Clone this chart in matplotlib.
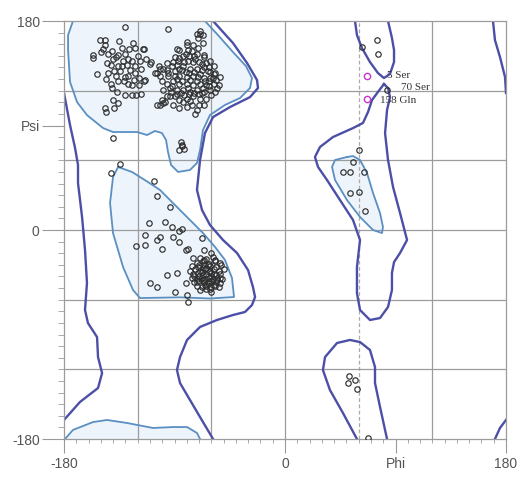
import matplotlib
matplotlib.use('Agg')
import matplotlib.pyplot as plt
from matplotlib.ticker import MultipleLocator

# ---- contour outlines, (phi, psi) ----
# outer (allowed) region, dark blue
outer_left = [(-180, 118), (-175.1, 90.4), (-171.0, 70.6), (-168.6, 56.0), (-168.6, 40.5),
              (-165.3, 11.2), (-162.9, -17.2), (-161.3, -45.6), (-162.9, -68.9), (-160.5, -80.1),
              (-153.1, -92.2), (-152.3, -109.4), (-149.0, -123.2), (-152.3, -136.1),
              (-167.0, -148.1), (-180, -163.6)]
outer_right = [(-58.6, 180), (-42.4, 161.1), (-30.9, 143.8), (-22.8, 129.2), (-22.0, 122.3),
               (-28.5, 114.5), (-44.8, 105.9), (-58.6, 97.3), (-65.2, 83.5), (-69.2, 60.3),
               (-71.7, 34.5), (-67.6, 17.2), (-61.1, 4.3), (-50.5, -8.6), (-39.1, -19.8),
               (-30.1, -34.5), (-26.1, -49.1), (-24.4, -57.7), (-26.9, -64.6), (-32.6, -70.6),
               (-42.4, -73.2), (-55.4, -77.5), (-69.2, -83.5), (-79.8, -94.7), (-85.5, -109.4),
               (-88.0, -120.6), (-85.5, -131.8), (-77.4, -146.4), (-69.2, -161.1), (-58.6, -180)]
outer_wrap_top = [(169.4, 180), (171.0, 163.6), (175.1, 149.0), (179.2, 131.8), (180, 118)]
outer_wrap_bottom = [(171.0, -180), (175.1, -170.5), (180, -163.6)]
outer_lalpha = [(80.6, 125.7), (75.7, 118.9), (70.9, 112.0), (67.6, 101.6), (63.5, 92.2),
                (55.4, 87.8), (39.1, 80.1), (28.5, 71.5), (24.4, 62.9), (26.9, 54.3),
                (34.2, 43.1), (44.8, 25.8), (55.4, 8.6), (61.1, -8.6), (58.6, -31.9),
                (58.6, -54.3), (61.1, -68.9), (69.2, -77.5), (77.4, -75.8), (83.9, -66.3),
                (87.1, -51.7), (87.1, -37.0), (88.8, -27.6), (93.7, -19.8), (99.4, -8.6),
                (93.7, 14.6), (88.0, 37.0), (83.9, 60.3), (81.5, 83.5), (83.1, 103.3),
                (85.5, 114.5), (83.9, 122.3), (80.6, 125.7)]
outer_epsilon_bottom = [(58.6, -180), (47.2, -157.6), (36.6, -137.8), (30.9, -120.6),
                        (32.6, -109.4), (42.4, -97.3), (52.9, -94.7), (61.1, -96.5),
                        (69.2, -103.3), (73.3, -118.0), (73.3, -131.8), (77.4, -152.4),
                        (83.1, -180)]
outer_epsilon_top = [(57.0, 180), (58.6, 167.9), (62.7, 156.7), (69.2, 144.7), (75.7, 135.2),
                     (80.6, 130.9), (85.5, 134.4), (88.8, 144.7), (88.8, 155.0),
                     (87.1, 165.4), (83.9, 180)]

# core (most favoured) regions, light blue
core_beta = [(-172.7, 180), (-176.7, 167.9), (-176.7, 155.0), (-175.1, 127.5), (-169.4, 110.2),
             (-161.3, 99.0), (-148.2, 87.8), (-140.1, 84.4), (-128.7, 84.4), (-120.5, 84.4),
             (-112.4, 81.8), (-105.9, 85.3), (-100.2, 83.5), (-96.9, 77.5), (-95.3, 67.2),
             (-92.8, 56.0), (-87.1, 50.0), (-77.4, 51.7), (-71.7, 57.7), (-69.2, 68.9),
             (-66.8, 86.1), (-61.1, 99.0), (-48.9, 107.7), (-36.6, 113.7), (-28.5, 122.3),
             (-26.9, 130.9), (-31.8, 141.2), (-42.4, 153.3), (-54.6, 167.9), (-65.2, 180)]
core_beta_wrap = [(-179.2, -180), (-172.7, -172.2), (-156.4, -165.4), (-145.0, -163.6),
                  (-128.7, -166.2), (-107.5, -170.5), (-91.2, -169.7), (-79.8, -169.7),
                  (-71.7, -174.8), (-69.2, -180)]
core_alpha = [(-136.0, 54.3), (-124.6, 50.0), (-111.6, 41.3), (-101.8, 34.5), (-89.6, 21.5),
              (-77.4, 8.6), (-66.8, -2.6), (-57.0, -14.6), (-48.9, -25.8), (-43.2, -41.3),
              (-41.5, -57.7), (-61.1, -59.0), (-85.5, -58.0), (-101.8, -58.3), (-118.1, -58.6),
              (-123.8, -51.7), (-131.9, -31.9), (-140.1, -2.6), (-142.5, 23.3), (-140.1, 45.6),
              (-136.0, 54.3)]
core_lalpha = [(50.5, 62.9), (40.7, 60.3), (38.3, 54.3), (40.7, 43.1), (50.5, 25.8),
               (61.1, 11.2), (71.7, 0.0), (79.0, -2.6), (79.8, 2.6), (77.4, 14.6),
               (71.7, 31.9), (66.8, 49.1), (61.1, 60.3), (55.4, 63.7), (50.5, 62.9)]

# ---- residues (phi, psi) ----
res_beta = [
    (-130, 175), (-151, 164), (-147, 164), (-147, 159), (-135, 163), (-148, 156), (-124, 161),
    (-122, 157), (-115, 156), (-156, 151), (-144, 152), (-141, 154), (-138, 149), (-136, 151),
    (-130, 152), (-132, 146), (-128, 147), (-125, 146), (-118, 146), (-109, 145), (-142, 142),
    (-145, 144), (-136, 141), (-133, 141), (-129, 142), (-122, 141), (-117, 139), (-103, 141),
    (-99, 139), (-96, 138), (-153, 134), (-144, 135), (-138, 133), (-130, 132), (-128, 133),
    (-122, 135), (-119, 131), (-114, 129), (-106, 135), (-102, 133), (-142, 126), (-136, 128),
    (-128, 126), (-125, 125), (-119, 125), (-115, 128), (-141, 122), (-137, 119), (-130, 116),
    (-125, 116), (-121, 116), (-147, 105), (-140, 112), (-136, 109), (-104, 108), (-98, 110),
    (-94, 115), (-96, 126), (-94, 122), (-95, 133), (-95, 173), (-140, 79), (-146, 102),
    (-139, 105), (-117, 117), (-116, 156), (-110, 143), (-102, 139), (-104, 135), (-156, 148),
    (-140, 147), (-134, 137), (-126, 138), (-120, 150), (-131, 128), (-123, 129), (-146, 130),
    (-139, 137), (-113, 147), (-127, 156), (-133, 157), (-150, 153),
    (-69, 169), (-71, 165), (-67, 161), (-75, 159), (-80, 159), (-86, 155), (-81, 152),
    (-76, 154), (-72, 152), (-90, 149), (-86, 148), (-79, 146), (-75, 145), (-66, 149),
    (-64, 144), (-61, 146), (-96, 144), (-92, 141), (-88, 142), (-83, 141), (-77, 139),
    (-72, 139), (-68, 138), (-61, 136), (-57, 135), (-95, 135), (-90, 133), (-86, 133),
    (-80, 132), (-75, 133), (-71, 132), (-66, 131), (-61, 131), (-56, 129), (-53, 132),
    (-100, 128), (-91, 128), (-86, 126), (-80, 126), (-75, 125), (-69, 126), (-64, 125),
    (-58, 126), (-54, 125), (-99, 121), (-88, 121), (-83, 121), (-77, 119), (-72, 121),
    (-66, 119), (-61, 121), (-57, 119), (-96, 115), (-90, 115), (-86, 112), (-80, 113),
    (-75, 115), (-69, 113), (-64, 113), (-99, 109), (-91, 108), (-86, 105), (-80, 106),
    (-76, 108), (-72, 103), (-73, 100), (-100, 112), (-102, 108), (-80, 162), (-69, 171),
    (-72, 169), (-67, 168), (-88, 156), (-66, 151), (-84, 138), (-78, 135), (-70, 145),
    (-62, 140), (-65, 128), (-72, 128), (-85, 118), (-79, 122), (-68, 118), (-60, 116),
    (-92, 124), (-88, 130), (-82, 145), (-74, 150), (-58, 141), (-90, 137),
    (-87, 146), (-83, 150), (-78, 150), (-73, 147), (-68, 143), (-63, 137), (-59, 131),
    (-55, 122), (-62, 124), (-67, 122), (-70, 117), (-74, 118), (-78, 117), (-82, 116),
    (-88, 117), (-93, 119), (-84, 128), (-77, 129), (-74, 136), (-69, 134), (-66, 140),
    (-81, 136), (-86, 139), (-91, 145), (-79, 155), (-71, 157), (-83, 110), (-77, 111),
    (-70, 108), (-66, 108), (-62, 128), (-58, 134),
    (-85, 76), (-84, 72), (-86, 69), (-82, 70), (-84, 73),
]
res_alpha = [
    (-134, 57), (-142, 49), (-107, 42), (-104, 29), (-94, 20), (-111, 6), (-98, 7), (-92, 3),
    (-84, 1), (-86, -1), (-91, -6), (-102, -6), (-114, -4), (-104, -9), (-121, -14),
    (-114, -13), (-100, -16), (-86, -10), (-81, -17), (-79, -16), (-68, -7), (-66, -17),
    (-60, -20), (-75, -24), (-96, -39), (-88, -37), (-110, -46), (-104, -49), (-90, -53),
    (-80, -56), (-81, -46), (-79, -62),
    (-69, -24), (-64, -25), (-59, -23),
    (-72, -28), (-67, -27), (-62, -29), (-57, -27), (-53, -28),
    (-76, -31), (-71, -32), (-66, -30), (-61, -31), (-56, -32), (-52, -30),
    (-77, -35), (-73, -34), (-69, -35), (-65, -34), (-61, -35), (-58, -34), (-54, -35), (-50, -34),
    (-75, -38), (-71, -37), (-67, -39), (-64, -38), (-60, -37), (-56, -39), (-53, -38),
    (-76, -41), (-72, -42), (-68, -41), (-65, -42), (-62, -41), (-59, -42), (-55, -41), (-51, -42),
    (-74, -45), (-70, -44), (-66, -45), (-63, -46), (-60, -44), (-56, -45), (-53, -46),
    (-72, -48), (-68, -49), (-64, -48), (-60, -49), (-57, -48), (-54, -49),
    (-69, -52), (-64, -51), (-60, -53),
    (-64, -33), (-60, -40), (-67, -43), (-62, -36), (-70, -40), (-58, -47),
    (-63, -30), (-58, -38), (-55, -43), (-68, -36), (-72, -45), (-65, -47), (-61, -51),
    (-70, -30), (-57, -26), (-66, -26), (-74, -40), (-53, -41), (-62, -44), (-67, -33),
]
res_right = [(75, 164), (76, 152), (63, 158), (83, 121), (60, 69), (55, 59), (47, 50),
             (53, 50), (64, 50), (53, 32), (60, 33), (65, 16), (52, -126), (51, -132),
             (57, -129), (59, -137), (68, -179)]

# labelled residues
lab_names = ['5 Ser', '70 Ser', '158 Gln']
lab_phi = [67, 83, 67]
lab_psi = [133, 121, 113]
lab_magenta = [True, False, True]
lab_dx = [14, 10, 9]   # label offset, points
lab_dy = [0, 1.5, -1.5]

fig = plt.figure(figsize=(5.23, 4.80), dpi=100)
ax = fig.add_axes([0.1224, 0.0854, 0.8451, 0.8708])

core_col = '#edf4fb'
dark = '#4c4fa6'
light = '#5a8fc2'

for poly in [core_beta, core_beta_wrap, core_alpha, core_lalpha]:
    xs, ys = zip(*poly)
    ax.fill(xs, ys, color=core_col, lw=0, zorder=0)

# grid
for v in [-120, -60, 0, 120]:
    ax.axvline(v, color='#9c9c9c', lw=0.9, zorder=1)
ax.axvline(60, color='#aaaaaa', lw=0.9, ls=(0, (3, 2)), zorder=1)
for h in [-120, -60, 0, 60, 120]:
    ax.axhline(h, color='#9c9c9c', lw=0.9, zorder=1)

for poly in [core_beta, core_beta_wrap, core_alpha, core_lalpha]:
    xs, ys = zip(*poly)
    ax.plot(xs, ys, color=light, lw=1.3, zorder=2, solid_joinstyle='round')
for poly in [outer_left, outer_right, outer_wrap_top, outer_wrap_bottom, outer_lalpha,
             outer_epsilon_bottom, outer_epsilon_top]:
    xs, ys = zip(*poly)
    ax.plot(xs, ys, color=dark, lw=1.7, zorder=2, solid_joinstyle='round')

for pts in [res_beta, res_alpha, res_right]:
    xs, ys = zip(*pts)
    ax.plot(xs, ys, 'o', ms=3.9, mfc='none', mec='#2e2e2e', mew=0.85, zorder=3)

for name, p, s, mag, dx, dy in zip(lab_names, lab_phi, lab_psi, lab_magenta, lab_dx, lab_dy):
    if mag:
        ax.plot(p, s, 'o', ms=4.5, mfc='none', mec='#cc33cc', mew=1.0, zorder=4)
    ax.annotate(name, (p, s), xytext=(dx, dy), textcoords='offset points', va='center',
                ha='left', fontsize=8, family='Liberation Serif', color='#333333', zorder=5)

ax.set_xlim(-180, 180)
ax.set_ylim(-180, 180)
ax.set_xticks([-180, 0, 90, 180])
ax.set_xticklabels(['-180', '0', 'Phi', '180'])
ax.set_yticks([-180, 0, 90, 180])
ax.set_yticklabels(['-180', '0', 'Psi', '180'])
ax.xaxis.set_minor_locator(MultipleLocator(10))
ax.yaxis.set_minor_locator(MultipleLocator(10))
ax.tick_params(axis='y', which='major', length=15.5, width=0.8, color='#999999', pad=2,
               labelsize=10, labelcolor='#555555')
ax.tick_params(axis='x', which='major', length=10, width=0.8, color='#999999', pad=3,
               labelsize=10, labelcolor='#555555')
ax.tick_params(axis='y', which='minor', length=4.3, width=0.7, color='#aaaaaa')
ax.tick_params(axis='x', which='minor', length=3, width=0.7, color='#aaaaaa')
for lbl in ax.get_xticklabels() + ax.get_yticklabels():
    lbl.set_family('Liberation Sans')
for sp in ax.spines.values():
    sp.set_color('#9c9c9c')
    sp.set_linewidth(0.9)

fig.savefig('out.png', dpi=100, facecolor='white')
